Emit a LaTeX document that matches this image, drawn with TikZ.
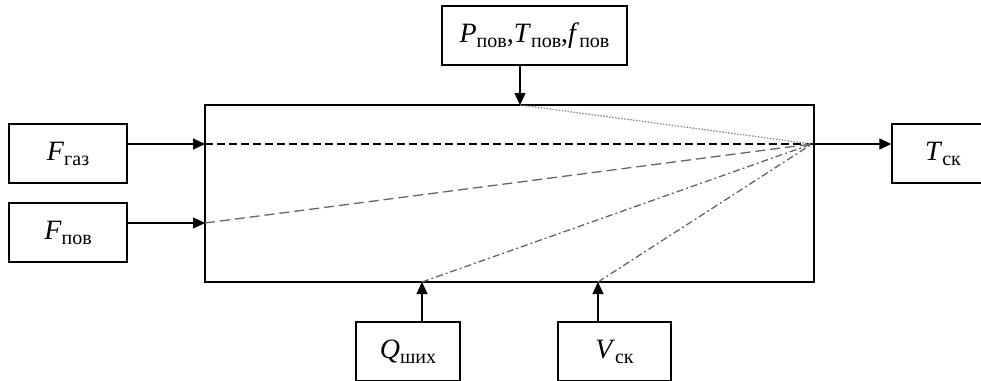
\documentclass[tikz,border=0pt]{standalone}
\usepackage{fontspec}
\setmainfont{Liberation Serif}
\usepackage{tikz}
\usetikzlibrary{positioning,arrows.meta,calc}
\newcommand{\vsub}[2]{\textit{#1}\raisebox{-5pt}{\fontsize{20}{20}\selectfont #2}}

\begin{document}
\begin{tikzpicture}[
  x=1pt, y=-1pt, >={Triangle[length=12pt,width=11pt]},
  box/.style={draw, line width=1.4pt, minimum height=59pt, minimum width=118pt, inner sep=0pt,
    align=center, font=\fontsize{28}{30}\selectfont},
  link/.style={->, line width=1.4pt},
  ray/.style={line width=1.3pt, draw=black!60},
]
  \useasboundingbox (0,0) rectangle (981,380);
  \clip (0,0) rectangle (981,380);
  \node[box, minimum width=609pt, minimum height=177pt] (plant) at (509.5,193.5) {};
  \node[box] (fgas) at (68,153.5) {\vsub{F}{газ}};
  \node[box] (fpov) at (68,232.5) {\vsub{F}{пов}};
  \node[box, minimum width=185pt] (ptf) at (534.5,35.5) {\vsub{P}{пов},\vsub{T}{пов},\vsub{f}{пов}};
  \node[box, minimum width=102pt] (tsk) at (943,153.5) {\vsub{T}{ск}};
  \node[box, minimum width=104pt] (qsh) at (408,351.5) {\vsub{Q}{ших}};
  \node[box, minimum width=113pt] (vsk) at (614.5,351.5) {\vsub{V}{ск}};
  % entry points on the plant box
  \coordinate (pin) at (520,105);
  \coordinate (qin) at (422,282);
  \coordinate (vin) at (598,282);
  \coordinate (gin) at (205,144);
  \coordinate (fin) at (205,223);
  \coordinate (sum) at (812,144);
  \draw[link] (fgas.east |- gin) -- (gin);
  \draw[link] (fpov.east |- fin) -- (fin);
  \draw[link] (ptf.south -| pin) -- (pin);
  \draw[link] (qsh.north -| qin) -- (qin);
  \draw[link] (vsk.north -| vin) -- (vin);
  \draw[link] (sum) -- (sum -| tsk.west);
  % paths inside the plant
  \draw[ray, draw=black, dash pattern=on 8pt off 4pt] (gin) -- (sum);
  \draw[ray, dash pattern=on 10pt off 5pt] (fin) -- (sum);
  \draw[ray, draw=black!45, dash pattern=on 1.5pt off 1.5pt] (pin) -- (sum);
  \draw[ray, dash pattern=on 7pt off 3pt on 2pt off 3pt] (qin) -- (sum);
  \draw[ray, dash pattern=on 7pt off 3pt on 2pt off 3pt] (vin) -- (sum);
\end{tikzpicture}
\end{document}
